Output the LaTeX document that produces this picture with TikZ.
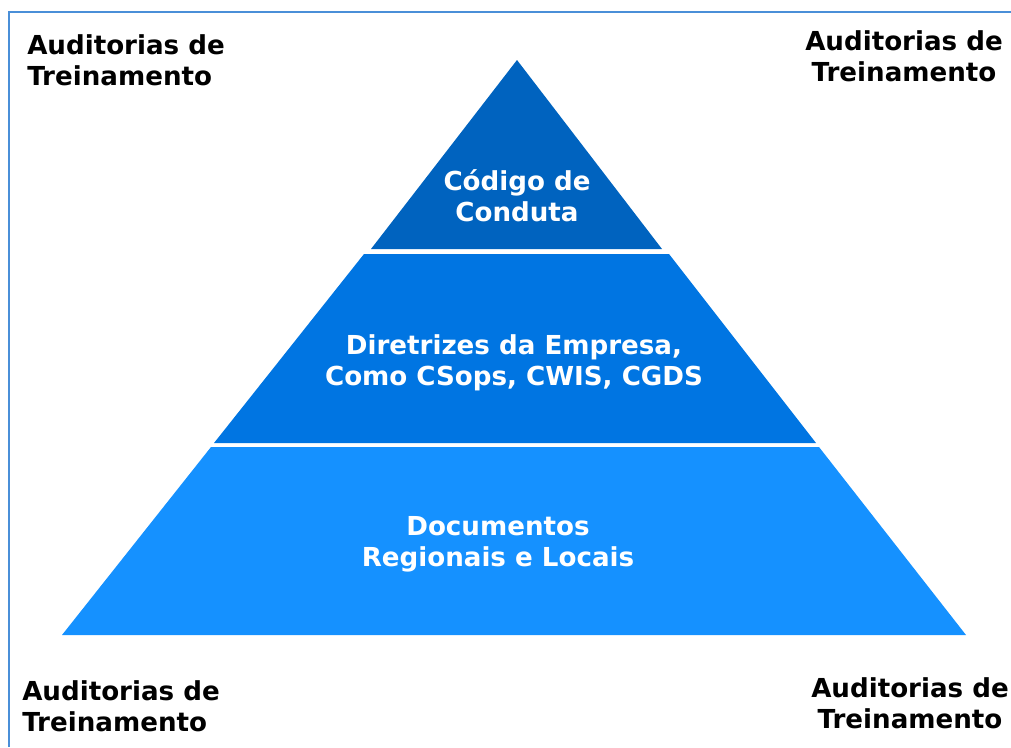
\documentclass[tikz,border=0pt]{standalone}
\usepackage{fontspec}
\setmainfont{DejaVu Sans}
\begin{document}
\begin{tikzpicture}[x=0.75pt,y=-0.75pt,
  lbl/.style={font=\bfseries\fontsize{19.6}{23.2}\selectfont, inner sep=0pt},
  tiertext/.style={lbl, text=white, align=center},
  frameline/.style={draw=frameblue, line width=0.9pt}]
\definecolor{frameblue}{HTML}{4A8FD8}
\definecolor{tierA}{HTML}{0063BF}
\definecolor{tierB}{HTML}{0075E2}
\definecolor{tierC}{HTML}{1591FF}
\useasboundingbox (0,0) rectangle (1011,747);
% frame
\coordinate (fA) at (9,747);
\coordinate (fB) at (9,12);
\coordinate (fC) at (1011,12);
\draw[frameline] (fA) -- (fB) -- (fC);
% tiers
\fill[tierA] (517,60) -- (662,249) -- (371,249) -- cycle;
\fill[tierB] (364,254) -- (669,254) -- (816,443) -- (214,443) -- cycle;
\fill[tierC] (211,447) -- (819,447) -- (966,635) -- (62,635) -- cycle;
% tier texts
\node[tiertext] (t1) at (517,196) {Código de\\Conduta};
\node[tiertext] (t2) at (514,363) {Diretrizes da Empresa,\\Como CSops, CWIS, CGDS};
\node[tiertext] (t3) at (498,544) {Documentos\\Regionais e Locais};
% corner labels
\node[lbl, align=left, anchor=west] (c1) at (27,60) {Auditorias de\\Treinamento};
\node[lbl, align=center] (c2) at (904,56) {Auditorias de\\Treinamento};
\node[lbl, align=left, anchor=west] (c3) at (22,706) {Auditorias de\\Treinamento};
\node[lbl, align=center] (c4) at (910,703) {Auditorias de\\Treinamento};
\end{tikzpicture}
\end{document}
